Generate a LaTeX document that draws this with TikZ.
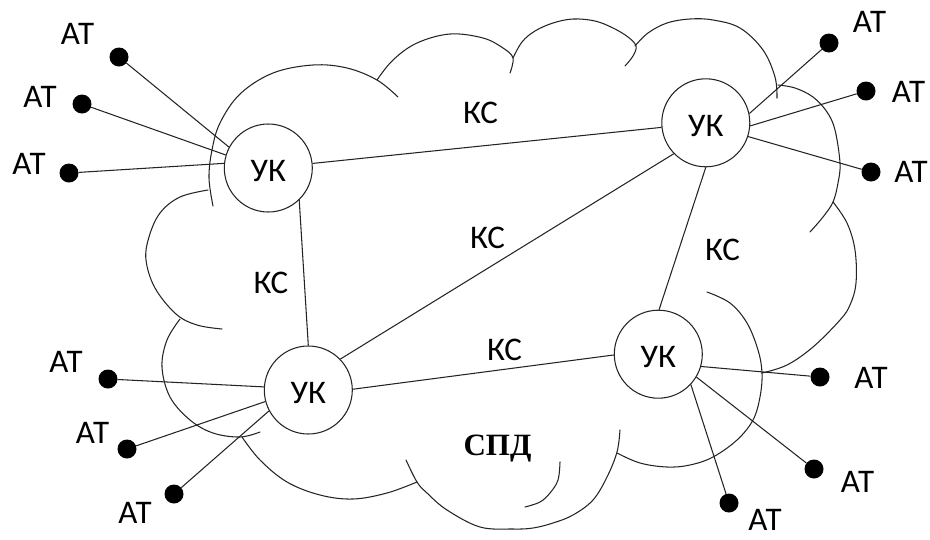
\documentclass[tikz,border=0pt]{standalone}
\usepackage{fontspec}
\setmainfont{Carlito}
\newfontfamily\serifbold{Liberation Serif}
\definecolor{inkgray}{RGB}{35,35,35}
\begin{document}
\begin{tikzpicture}[x=1pt,y=-1pt,
  ink/.style={draw=inkgray, line width=1.05pt},
  uk/.style={circle, ink, fill=white, minimum size=88pt, inner sep=0pt,
    font=\fontsize{33}{38}\selectfont, text height=27pt, text depth=0pt},
  term/.style={circle, fill=black, minimum size=19pt, inner sep=0pt},
  lbl/.style={anchor=base, inner sep=0pt, font=\fontsize{33}{38}\selectfont},
  link/.style={ink},
  cloudarc/.style={ink, line cap=round},
]
\useasboundingbox (0,0) rectangle (930,539);

% cloud outline: one smooth curve per bump, inner overhangs included
\draw[cloudarc] plot[smooth, tension=0.6] coordinates {(213,206) (209,178) (212,150) (220,123) (240,94) (273,73) (313,65) (347,68) (377,80) (398,97)};
\draw[cloudarc] plot[smooth, tension=0.6] coordinates {(377,80) (393,60) (417,43) (450,34) (483,38) (503,48) (513,58) (510,73)};
\draw[cloudarc] plot[smooth, tension=0.6] coordinates {(513,58) (522,42) (535,31) (553,23) (573,19) (595,21) (613,28) (628,37) (636,46) (633,56) (625,66)};
\draw[cloudarc] plot[smooth, tension=0.6] coordinates {(635,46) (648,33) (667,23) (690,19) (713,20) (740,28) (763,50) (775,77) (777,98)};
\draw[cloudarc] plot[smooth, tension=0.6] coordinates {(778,85) (795,88) (813,97) (827,112) (835,130) (840,163) (838,183) (833,202) (823,217) (810,232)};
\draw[cloudarc] plot[smooth, tension=0.6] coordinates {(833,202) (847,223) (855,250) (856,283) (850,305) (840,320) (813,347) (787,365) (762,373)};
\draw[cloudarc] plot[smooth, tension=0.6] coordinates {(707,292) (730,303) (747,323) (758,350) (762,373) (760,397) (753,420) (737,440) (713,457) (690,465) (667,467) (640,463) (617,453)};
\draw[cloudarc] plot[smooth, tension=0.6] coordinates {(620,430) (617,452) (607,477) (593,500) (573,515) (553,523) (533,528) (513,529) (480,527) (447,510) (427,493) (417,482) (406,460)};
\draw[cloudarc] plot[smooth, tension=0.6] coordinates {(560,462) (558,480) (550,493) (540,502) (525,507)};
\draw[cloudarc] plot[smooth, tension=0.6] coordinates {(417,482) (387,493) (353,499) (320,495) (287,482) (260,460) (242,437)};
\draw[cloudarc] plot[smooth, tension=0.6] coordinates {(180,319) (167,340) (162,367) (170,397) (190,420) (213,433) (240,437) (260,432)};
\draw[cloudarc] plot[smooth, tension=0.6] coordinates {(208,190) (180,197) (160,213) (149,237) (146,260) (155,288) (176,314) (197,325) (222,329)};

% switching nodes
\node[uk] (uk1) at (268.3,168) {УК};
\node[uk] (uk2) at (705.8,122.8) {УК};
\node[uk] (uk3) at (308.3,390) {УК};
\node[uk] (uk4) at (658.3,354.2) {УК};

% terminals
\node[term] (t1) at (119,57) {};
\node[term] (t2) at (82,104) {};
\node[term] (t3) at (69,173) {};
\node[term] (t4) at (829,43) {};
\node[term] (t5) at (866,91) {};
\node[term] (t6) at (871,172) {};
\node[term] (t7) at (108,379) {};
\node[term] (t8) at (127,449) {};
\node[term] (t9) at (174,494) {};
\node[term] (t10) at (820,377) {};
\node[term] (t11) at (814,469) {};
\node[term] (t12) at (729,503) {};

% trunk channels
\draw[link] (uk1) -- (uk2);
\draw[link] (uk1.314.7) -- (uk3.90);
\draw[link] (uk2.224.7) -- (uk3.44.4);
\draw[link] (uk2.270) -- (uk4.89);
\draw[link] (uk3.1.3) -- (uk4.181);

% subscriber lines
\draw[link] (t1) -- (uk1.152.4);
\draw[link] (t2) -- (uk1.163.9);
\draw[link] (t3) -- (uk1.174);
\draw[link] (t4) -- (uk2.12.5);
\draw[link] (t5) -- (uk2.356);
\draw[link] (t6) -- (uk2.342);
\draw[link] (t7) -- (uk3.176);
\draw[link] (t8) -- (uk3.195.4);
\draw[link] (t9) -- (uk3.208.5);
\draw[link] (t10) -- (uk4.344);
\draw[link] (t11) -- (uk4.329);
\draw[link] (t12) -- (uk4.317);

% terminal labels
\node[lbl] (l1) at (77.5,44) {АТ};
\node[lbl] (l2) at (40,107) {АТ};
\node[lbl] (l3) at (29,174) {АТ};
\node[lbl] (l4) at (869.5,32) {АТ};
\node[lbl] (l5) at (908.5,102) {АТ};
\node[lbl] (l6) at (911,182) {АТ};
\node[lbl] (l7) at (66,372) {АТ};
\node[lbl] (l8) at (92.5,443) {АТ};
\node[lbl] (l9) at (135,523) {АТ};
\node[lbl] (l10) at (871,388) {АТ};
\node[lbl] (l11) at (857.5,492) {АТ};
\node[lbl] (l12) at (765,530) {АТ};

% channel labels
\node[lbl] (k1) at (480.5,123) {КС};
\node[lbl] (k2) at (487.5,248) {КС};
\node[lbl] (k3) at (722.5,260) {КС};
\node[lbl] (k4) at (271,293) {КС};
\node[lbl] (k5) at (504.5,360) {КС};

% network name
\node[anchor=base, inner sep=0pt, font=\serifbold\bfseries\fontsize{31}{36}\selectfont] (spd) at (497.5,455) {СПД};
\end{tikzpicture}
\end{document}
